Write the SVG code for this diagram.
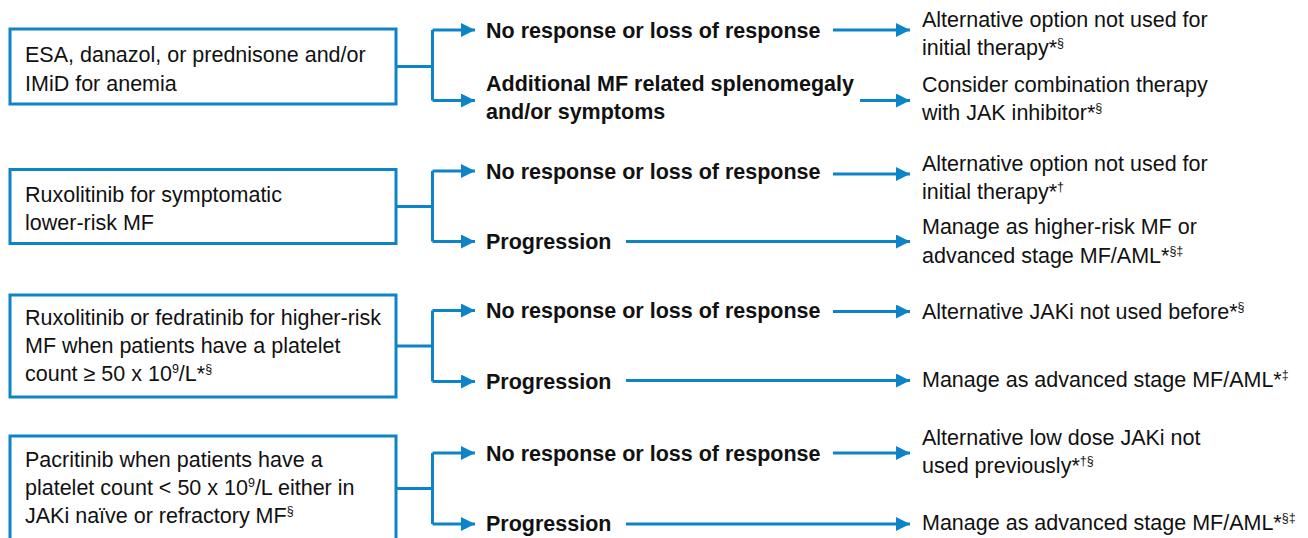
<svg xmlns="http://www.w3.org/2000/svg" width="1308" height="538" viewBox="0 0 1308 538">
<style>
.box{fill:#fff;stroke:#0e84c8;stroke-width:3}
.ln{fill:none;stroke:#0e84c8;stroke-width:3}
.t{font-family:"Liberation Sans",Arial,sans-serif;font-size:21.5px;fill:#111}
.b{font-weight:bold}
.sup{font-size:12.5px}
</style>
<defs>
<marker id="ah" markerUnits="userSpaceOnUse" markerWidth="15" markerHeight="15" refX="14" refY="7" orient="auto">
<path d="M0,0 L14,7 L0,14 z" fill="#0e84c8"/>
</marker>
</defs>
<rect width="1308" height="538" fill="#fff"/>

<g id="connectors">
<!-- section 1 -->
<path class="ln" d="M396,66.5 H432.5 M432.5,30 V100.5"/>
<path class="ln" d="M432.5,30 H475" marker-end="url(#ah)"/>
<path class="ln" d="M432.5,100.5 H475" marker-end="url(#ah)"/>
<path class="ln" d="M833,30 H910" marker-end="url(#ah)"/>
<path class="ln" d="M860,100.5 H910" marker-end="url(#ah)"/>
<!-- section 2 -->
<path class="ln" d="M396,206.5 H432.5 M432.5,171 V241.5"/>
<path class="ln" d="M432.5,171 H475" marker-end="url(#ah)"/>
<path class="ln" d="M432.5,241.5 H475" marker-end="url(#ah)"/>
<path class="ln" d="M833,174 H910" marker-end="url(#ah)"/>
<path class="ln" d="M626,241.5 H910" marker-end="url(#ah)"/>
<!-- section 3 -->
<path class="ln" d="M396,346 H432.5 M432.5,310.5 V381.5"/>
<path class="ln" d="M432.5,310.5 H475" marker-end="url(#ah)"/>
<path class="ln" d="M432.5,381.5 H475" marker-end="url(#ah)"/>
<path class="ln" d="M833,311.5 H910" marker-end="url(#ah)"/>
<path class="ln" d="M626,380.5 H910" marker-end="url(#ah)"/>
<!-- section 4 -->
<path class="ln" d="M396,488.5 H432.5 M432.5,453 V524"/>
<path class="ln" d="M432.5,453 H475" marker-end="url(#ah)"/>
<path class="ln" d="M432.5,524 H475" marker-end="url(#ah)"/>
<path class="ln" d="M833,453 H910" marker-end="url(#ah)"/>
<path class="ln" d="M626,524 H910" marker-end="url(#ah)"/>
</g>

<g id="box1">
<rect class="box" x="10" y="29" width="386" height="75"/>
<text class="t" x="25" y="62">ESA, danazol, or prednisone and/or</text>
<text class="t" x="25" y="90.5">IMiD for anemia</text>
</g>
<g id="box2">
<rect class="box" x="10" y="169.5" width="386" height="74"/>
<text class="t" x="25" y="201.7">Ruxolitinib for symptomatic</text>
<text class="t" x="25" y="230">lower-risk MF</text>
</g>
<g id="box3">
<rect class="box" x="10" y="295" width="386" height="102"/>
<text class="t" x="25" y="325">Ruxolitinib or fedratinib for higher-risk</text>
<text class="t" x="25" y="353.3">MF when patients have a platelet</text>
<text class="t" x="25" y="380.7">count ≥ 50 x 10<tspan class="sup" dy="-8">9</tspan><tspan dy="8">/L*</tspan><tspan class="sup" dy="-8">§</tspan></text>
</g>
<g id="box4">
<rect class="box" x="10" y="436" width="386" height="130"/>
<text class="t" x="25" y="466.7">Pacritinib when patients have a</text>
<text class="t" x="25" y="495">platelet count &lt; 50 x 10<tspan class="sup" dy="-8">9</tspan><tspan dy="8">/L either in</tspan></text>
<text class="t" x="25" y="522.7">JAKi naïve or refractory MF<tspan class="sup" dy="-8">§</tspan></text>
</g>

<g id="mid1a"><text class="t b" x="486" y="37.5">No response or loss of response</text></g>
<g id="mid1b">
<text class="t b" x="486" y="91">Additional MF related splenomegaly</text>
<text class="t b" x="486" y="119">and/or symptoms</text>
</g>
<g id="mid2a"><text class="t b" x="486" y="178.5">No response or loss of response</text></g>
<g id="mid2b"><text class="t b" x="486" y="248.5">Progression</text></g>
<g id="mid3a"><text class="t b" x="486" y="318">No response or loss of response</text></g>
<g id="mid3b"><text class="t b" x="486" y="389">Progression</text></g>
<g id="mid4a"><text class="t b" x="486" y="460.5">No response or loss of response</text></g>
<g id="mid4b"><text class="t b" x="486" y="531">Progression</text></g>

<g id="out1a">
<text class="t" x="922" y="26.5">Alternative option not used for</text>
<text class="t" x="922" y="54.5">initial therapy*<tspan class="sup" dy="-8">§</tspan></text>
</g>
<g id="out1b">
<text class="t" x="922" y="91.5">Consider combination therapy</text>
<text class="t" x="922" y="119.5">with JAK inhibitor*<tspan class="sup" dy="-8">§</tspan></text>
</g>
<g id="out2a">
<text class="t" x="922" y="170.7">Alternative option not used for</text>
<text class="t" x="922" y="199.3">initial therapy*<tspan class="sup" dy="-8">†</tspan></text>
</g>
<g id="out2b">
<text class="t" x="922" y="234">Manage as higher-risk MF or</text>
<text class="t" x="922" y="262.7">advanced stage MF/AML*<tspan class="sup" dy="-8">§‡</tspan></text>
</g>
<g id="out3a">
<text class="t" x="922" y="319.3">Alternative JAKi not used before*<tspan class="sup" dy="-8">§</tspan></text>
</g>
<g id="out3b">
<text class="t" x="922" y="387.3">Manage as advanced stage MF/AML*<tspan class="sup" dy="-8">‡</tspan></text>
</g>
<g id="out4a">
<text class="t" x="922" y="445">Alternative low dose JAKi not</text>
<text class="t" x="922" y="473.3">used previously*<tspan class="sup" dy="-8">†§</tspan></text>
</g>
<g id="out4b">
<text class="t" x="922" y="530">Manage as advanced stage MF/AML*<tspan class="sup" dy="-8">§‡</tspan></text>
</g>
</svg>
